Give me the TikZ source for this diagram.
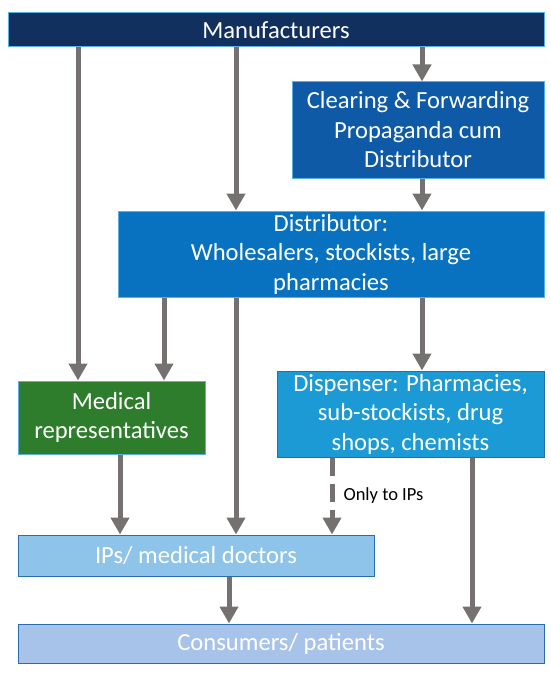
\documentclass[tikz,border=0pt]{standalone}
\usepackage{fontspec}
\setmainfont{Carlito}
\usepackage{xcolor}
\usepackage{tikz}
\usetikzlibrary{arrows.meta, positioning}

\definecolor{manublue}{RGB}{18,48,94}
\definecolor{cfblue}{RGB}{14,90,166}
\definecolor{distblue}{RGB}{8,114,192}
\definecolor{repgreen}{RGB}{46,125,44}
\definecolor{dispblue}{RGB}{28,154,214}
\definecolor{ipblue}{RGB}{142,195,234}
\definecolor{consblue}{RGB}{168,195,233}
\definecolor{edgelight}{RGB}{90,176,226}
\definecolor{edgedark}{RGB}{40,110,175}
\definecolor{arrowgray}{RGB}{118,113,113}

\begin{document}
\begin{tikzpicture}[
    x=1pt, y=1pt,
    box/.style={rectangle, draw=edgelight, line width=1pt, text=white,
      align=center, inner sep=0pt, font=\fontsize{24.6}{29.5}\selectfont},
    arrow/.style={draw=arrowgray, line width=5pt,
      -{Triangle[width=18pt, length=17pt]}},
    dasharrow/.style={arrow, dash pattern=on 18pt off 8pt}
]
\useasboundingbox (0,0) rectangle (550,-674);

\node[box, fill=manublue, minimum width=536, minimum height=34]
  (manu) at (276,-30) {Manufacturers};
\node[box, fill=cfblue, minimum width=252, minimum height=96]
  (cf) at (418,-130) {Clearing \& Forwarding\\Propaganda cum\\Distributor};
\node[box, fill=distblue, minimum width=426, minimum height=86]
  (dist) at (331,-254) {Distributor:\\Wholesalers, stockists, large\\pharmacies};
\node[box, fill=repgreen, minimum width=187, minimum height=73]
  (medrep) at (111.5,-417.5) {Medical\\representatives};
\node[box, fill=dispblue, draw=edgedark, minimum width=267, minimum height=86]
  (disp) at (410.5,-414) {Dispenser: Pharmacies,\\sub-stockists, drug\\shops, chemists};
\node[box, fill=ipblue, draw=edgedark, minimum width=356, minimum height=41]
  (ips) at (196,-555.5) {IPs/ medical doctors};
\node[box, fill=consblue, draw=edgedark, minimum width=526, minimum height=39]
  (cons) at (281,-643.5) {Consumers/ patients};

\coordinate (c1) at (78,0);
\coordinate (c2) at (120,0);
\coordinate (c3) at (164,0);
\coordinate (c4) at (229,0);
\coordinate (c5) at (236,0);
\coordinate (c6) at (332,0);
\coordinate (c7) at (422,0);
\coordinate (c8) at (472,0);

\draw[arrow] (manu.south -| c1) -- (medrep.north -| c1);
\draw[arrow] (manu.south -| c5) -- (dist.north -| c5);
\draw[arrow] (manu.south -| c7) -- (cf.north -| c7);
\draw[arrow] (cf.south -| c7)   -- (dist.north -| c7);
\draw[arrow] (dist.south -| c3) -- (medrep.north -| c3);
\draw[arrow] (dist.south -| c5) -- (ips.north -| c5);
\draw[arrow] (dist.south -| c7) -- (disp.north -| c7);
\draw[arrow] (medrep.south -| c2) -- (ips.north -| c2);
\draw[dasharrow] (disp.south -| c6) -- (ips.north -| c6);
\draw[arrow] (disp.south -| c8) -- (cons.north -| c8);
\draw[arrow] (ips.south -| c4)  -- (cons.north -| c4);

\node[anchor=west, font=\fontsize{18.5}{22}\selectfont] (only) at (340,-496) {Only to IPs};
\end{tikzpicture}
\end{document}
